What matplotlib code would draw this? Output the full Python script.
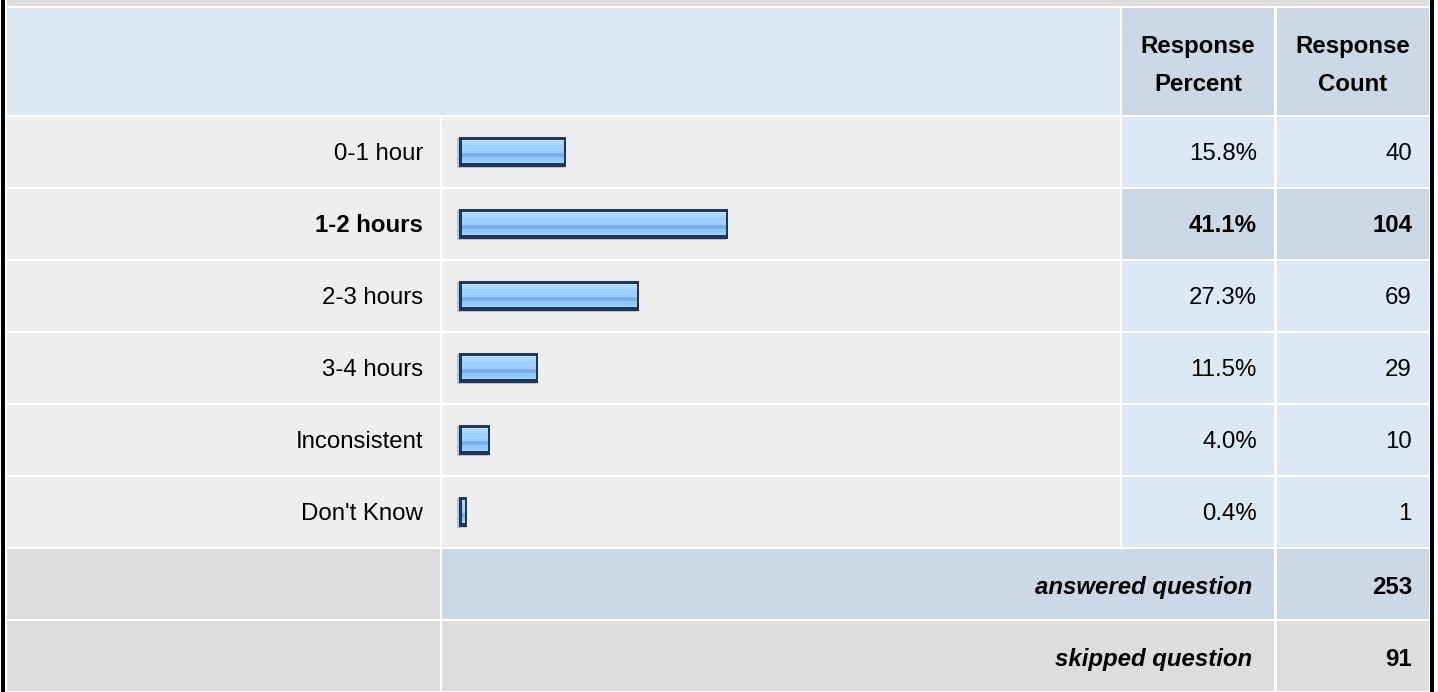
import matplotlib
matplotlib.use("Agg")
import matplotlib.pyplot as plt
from matplotlib.patches import Rectangle
from matplotlib.colors import ListedColormap
import matplotlib.patheffects as pe
import numpy as np

# ---- data ----
categories = ["0-1 hour", "1-2 hours", "2-3 hours", "3-4 hours", "Inconsistent", "Don't Know"]
percents = [15.8, 41.1, 27.3, 11.5, 4.0, 0.4]
counts = [40, 104, 69, 29, 10, 1]
answered = 253
skipped = 91
header_percent = ["Response", "Percent"]
header_count = ["Response", "Count"]

W, H = 1438, 692
DPI = 100
FONT = "Liberation Sans"
FS = 17.3

C_HEAD = "#dde8f5"
C_HEAD2 = "#ccd8e6"
C_ROW = "#eeeeee"
C_BLUE = "#dde8f5"
C_BLUE2 = "#ccd8e6"
C_GRAY = "#dddddd"

fig = plt.figure(figsize=(W / DPI, H / DPI), dpi=DPI)
fig.patch.set_facecolor("white")
bg = fig.add_axes([0, 0, 1, 1])
bg.set_xlim(0, W)
bg.set_ylim(H, 0)
bg.axis("off")

def cell(x0, x1, y0, y1, color):
    bg.add_patch(Rectangle((x0, y0), x1 - x0, y1 - y0, facecolor=color, edgecolor="none", zorder=1))

# column edges
LX0, LX1 = 7, 440
BX0, BX1 = 442, 1274
PX0, PX1 = 1122, 1274
CX0, CX1 = 1277, 1429

# outer frame
bg.add_patch(Rectangle((1, 0), 3.5, H, facecolor="black", edgecolor="none", zorder=3))
bg.add_patch(Rectangle((1430, 0), 3.5, H, facecolor="black", edgecolor="none", zorder=3))
cell(LX0, CX1, 0, 5.5, C_GRAY)

# header
cell(LX0, 1120, 8, 115, C_HEAD)
cell(PX0, PX1, 8, 115, C_HEAD2)
cell(CX0, CX1, 8, 115, C_HEAD2)
for k, (lp, lc) in enumerate(zip(header_percent, header_count)):
    yb = 53 + 38 * k
    bg.text((PX0 + PX1) / 2, yb, lp, ha="center", va="baseline", fontsize=FS,
            fontweight="bold", family=FONT, zorder=4)
    bg.text((CX0 + CX1) / 2, yb, lc, ha="center", va="baseline", fontsize=FS,
            fontweight="bold", family=FONT, zorder=4)

ROW0, PITCH, CH = 117, 72, 70
best = int(np.argmax(counts))
for i, (cat, p, c) in enumerate(zip(categories, percents, counts)):
    y0 = ROW0 + PITCH * i
    y1 = y0 + CH
    yb = y0 + 43
    bold = i == best
    cell(LX0, LX1, y0, y1, C_ROW)
    cell(BX0, 1120, y0, y1, C_ROW)
    cell(PX0, PX1, y0, y1, C_BLUE2 if bold else C_BLUE)
    cell(CX0, CX1, y0, y1, C_BLUE2 if bold else C_BLUE)
    fw = "bold" if bold else "normal"
    bg.text(423, yb, cat, ha="right", va="baseline", fontsize=FS, family=FONT, fontweight=fw, zorder=4)
    bg.text(1257, yb, f"{p:.1f}%", ha="right", va="baseline", fontsize=FS, family=FONT, fontweight=fw, zorder=4)
    bg.text(1412, yb, f"{c}", ha="right", va="baseline", fontsize=FS, family=FONT, fontweight=fw, zorder=4)

# summary rows
n = len(categories)
for j, (lab, val) in enumerate([("answered question", answered), ("skipped question", skipped)]):
    y0 = ROW0 + PITCH * (n + j)
    y1 = min(y0 + CH, H)
    yb = y0 + 45
    cell(LX0, LX1, y0, y1, C_GRAY)
    cell(BX0, BX1, y0, y1, C_BLUE2 if j == 0 else C_GRAY)
    cell(CX0, CX1, y0, y1, C_BLUE2 if j == 0 else C_GRAY)
    bg.text(1252, yb, lab, ha="right", va="baseline", fontsize=FS, family=FONT,
            fontweight="bold", style="italic", zorder=4)
    bg.text(1412, yb, f"{val}", ha="right", va="baseline", fontsize=FS, family=FONT,
            fontweight="bold", zorder=4)

# ---- bar axes ----
bx_left, bx_w = 461.5, 640
by_top, by_h = ROW0 - 1.5, PITCH * n
ax = fig.add_axes([bx_left / W, 1 - (by_top + by_h) / H, bx_w / W, by_h / H])
ax.set_xlim(0, 100)
ax.set_ylim(n - 0.5, -0.5)
ax.axis("off")
ax.patch.set_alpha(0)

px = 72 / DPI
bars = ax.barh(range(n), percents, height=24 / PITCH, facecolor="#1c375e",
               edgecolor="#1c375e", linewidth=6 * px, zorder=2)
for b in bars:
    b.set_clip_on(False)
    b.set_path_effects([pe.SimpleLineShadow(offset=(-0.8, -0.8), shadow_color="#8797b0", alpha=0.5),
                        pe.Normal()])

stripes = (["#c9e5ff"] * 2 + ["#b0d9ff"] * 4 + ["#9dcfff"] * 8 +
           ["#79aef1"] * 4 + ["#8ec6ff"] * 4 + ["#a2d3ff"] * 2)
cmap = ListedColormap(stripes)
grad = np.arange(len(stripes)).reshape(-1, 1)
for b in bars:
    x0, y0 = b.get_x(), b.get_y()
    w, h = b.get_width(), b.get_height()
    im = ax.imshow(grad, cmap=cmap, aspect="auto", extent=(x0, x0 + w, y0 + h, y0),
                   interpolation="nearest", zorder=3)
    im.set_clip_path(b)
ax.set_xlim(0, 100)
ax.set_ylim(n - 0.5, -0.5)

fig.savefig("out.png", dpi=DPI, facecolor="white")
